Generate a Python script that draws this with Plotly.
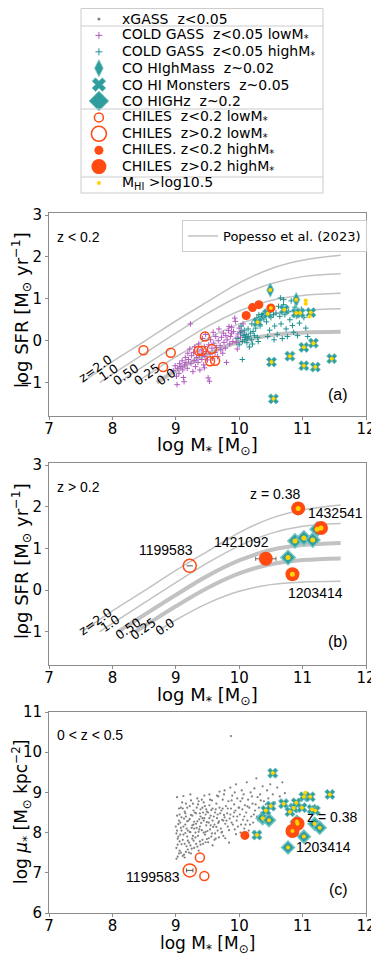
import plotly.graph_objects as go

W, H = 379, 956
BODY = 8  # the page body keeps its default 8px margin
FW, FH = W - BODY, H - BODY

# ---------------------------------------------------------------- data
# Popesso et al. (2023) main-sequence curves (read off panels a/b)
MS_LABELS = ["z=2.0", "1.0", "0.50", "0.25", "0.0"]
MS_Z20_M = [7.52, 8.0, 8.5, 9.0, 9.5, 10.0, 10.5, 11.0, 11.6]
MS_Z20_SFR = [-1.00, -0.50, -0.02, 0.47, 0.93, 1.38, 1.72, 1.92, 2.04]
MS_Z10_M = [7.80, 8.0, 8.5, 9.0, 9.5, 10.0, 10.5, 11.0, 11.6]
MS_Z10_SFR = [-1.00, -0.80, -0.31, 0.18, 0.65, 1.06, 1.36, 1.53, 1.60]
MS_Z05_M = [8.09, 8.5, 9.0, 9.5, 10.0, 10.5, 11.0, 11.6]
MS_Z05_SFR = [-1.00, -0.60, -0.12, 0.34, 0.71, 0.96, 1.08, 1.13]
MS_Z025_M = [8.36, 8.5, 9.0, 9.5, 10.0, 10.5, 11.0, 11.6]
MS_Z025_SFR = [-1.00, -0.87, -0.39, 0.05, 0.40, 0.62, 0.72, 0.76]
MS_Z00_M = [8.70, 9.0, 9.5, 10.0, 10.5, 11.0, 11.6]
MS_Z00_SFR = [-1.00, -0.72, -0.32, -0.03, 0.13, 0.19, 0.21]
MS_LAB_A_M = [7.73, 7.94, 8.21, 8.54, 8.85]
MS_LAB_A_SFR = [-0.67, -0.77, -0.81, -0.81, -0.85]
MS_LAB_B_M = [7.73, 7.96, 8.25, 8.49, 8.83]
MS_LAB_B_SFR = [-0.76, -0.80, -0.92, -0.92, -0.88]

# panel (a): z < 0.2
COLDGASS_LO = [
    (8.96, -0.72), (8.99, -0.60), (9.01, -0.85), (9.03, -0.66), (9.05, -0.78),
    (9.06, -0.55), (9.08, -0.62), (9.10, -0.48), (9.11, -0.70), (9.12, -0.88),
    (9.14, -0.58), (9.15, -0.40), (9.16, -0.52), (9.18, -0.66), (9.19, -0.30),
    (9.20, -0.45), (9.22, -0.20), (9.23, 0.40), (9.24, -0.55), (9.25, -0.36),
    (9.27, -0.74), (9.28, -0.28), (9.29, -0.48), (9.30, -0.15), (9.31, -0.62),
    (9.33, -0.40), (9.34, -0.25), (9.35, -0.52), (9.36, -0.08), (9.37, -0.35),
    (9.38, -0.70), (9.40, -0.22), (9.41, -0.45), (9.42, 0.05), (9.43, -0.30),
    (9.44, -0.58), (9.45, -0.14), (9.46, -0.38), (9.47, 0.15), (9.48, -0.26),
    (9.50, -0.46), (9.51, -0.89), (9.52, -0.10), (9.53, -0.97), (9.54, -0.32),
    (9.55, 0.02), (9.57, -0.18), (9.58, -0.42), (9.59, 0.20), (9.60, -0.06),
    (9.62, -0.28), (9.63, 0.10), (9.64, -0.16), (9.66, -0.38), (9.67, 0.00),
    (9.68, 0.28), (9.70, -0.12), (9.71, -0.22), (9.72, 0.08), (9.74, -0.30),
    (9.75, 0.18), (9.76, -0.04), (9.78, -0.18), (9.79, 0.12), (9.80, -0.52),
    (9.81, 0.02), (9.83, 0.24), (9.84, 0.34), (9.85, -0.08), (9.86, 0.10),
    (9.88, 0.32), (9.88, 0.18), (9.90, -0.02), (9.91, 0.22), (9.93, 0.54),
    (9.94, 0.46), (9.95, 0.06), (9.96, -0.05), (9.98, 0.16), (10.00, 0.30),
    (10.02, 0.08), (10.04, 0.22), (10.06, 0.40), (10.08, 0.14), (9.97, -0.20),
    (9.02, -1.05), (9.13, -0.98), (9.45, -0.65),
]
COLDGASS_HI = [
    (9.98, 0.05), (10.00, -0.10), (10.02, 0.20), (10.03, 0.35), (10.05, -0.02),
    (10.06, 0.12), (10.08, 0.25), (10.09, 0.02), (10.10, 0.08), (10.11, 0.15),
    (10.12, -0.05), (10.13, 0.06), (10.14, 0.28), (10.15, 0.10), (10.16, -0.15),
    (10.18, 0.18), (10.19, 0.02), (10.20, 0.40), (10.21, -0.08), (10.22, 0.22),
    (10.24, 0.12), (10.25, 0.48), (10.05, -0.45), (10.26, 0.30), (10.28, 0.55),
    (10.29, 0.08), (10.30, -0.02), (10.31, 0.62), (10.33, 0.35), (10.34, 0.50),
    (10.35, 0.58), (10.36, 0.62), (10.37, 0.55), (10.38, 0.65), (10.39, 0.52),
    (10.40, 0.60), (10.42, 0.70), (10.43, 0.45), (10.45, 0.10), (10.46, 0.62),
    (10.48, 0.25), (10.50, 0.55), (10.52, 0.80), (10.54, 0.62), (10.56, 0.35),
    (10.58, 0.66), (10.60, 0.15), (10.62, 0.82), (10.64, 0.58), (10.66, 0.40),
    (10.68, 0.05), (10.70, 0.86), (10.72, 0.62), (10.74, 0.28), (10.76, 0.10),
    (10.78, 0.70), (10.80, 0.50), (10.82, 0.95), (10.84, 0.36), (10.86, 0.20),
    (10.88, 0.80), (10.90, 0.58), (10.92, 0.12), (10.95, 0.42), (10.98, 0.75),
    (11.02, 0.55), (11.05, 0.30), (11.08, 0.10), (10.65, 1.02), (10.70, 0.98),
    (10.55, 0.02),
]
A_HIGHMASS_M = [10.49, 10.90]
A_HIGHMASS_SFR = [1.21, 0.98]
A_MONSTER_M = [10.29, 10.45, 10.71, 10.90, 10.96, 11.13, 11.02, 11.17, 10.80,
               10.51, 11.02, 11.20, 11.46, 10.54]
A_MONSTER_SFR = [0.44, 0.64, 0.74, 0.66, 0.66, 0.67, -0.16, -0.06, -0.37,
                 -0.51, -0.60, -0.63, -0.43, -1.39]
A_YELLOW_ONLY_M = [11.05, 11.05, 11.11]
A_YELLOW_ONLY_SFR = [0.96, 0.88, 0.58]
A_CHILES_LO_M = [8.49, 8.80, 8.92, 9.46, 9.36, 9.41, 9.57, 9.54, 9.62]
A_CHILES_LO_SFR = [-0.23, -0.63, -0.29, 0.10, -0.24, -0.24, -0.20, -0.49, -0.48]
A_CHILES_HI_M = [10.11, 10.21, 10.31, 10.50]
A_CHILES_HI_SFR = [0.60, 0.79, 0.86, 0.78]
A_CHILES_HI_FLAG = [0, 0, 0, 1]

# panel (b): z > 0.2
B_HIGHZ_M = [10.77, 10.88, 11.02, 11.16, 11.23]
B_HIGHZ_SFR = [0.78, 1.18, 1.25, 1.20, 1.46]
B_CHILES_LO_M = [9.22]
B_CHILES_LO_SFR = [0.58]
B_CHILES_LO_XERR = [0.05]
B_CHILES_HI_M = [10.93, 11.29, 10.42, 10.84]
B_CHILES_HI_SFR = [1.96, 1.49, 0.75, 0.38]
B_CHILES_HI_XERR = [0.0, 0.0, 0.16, 0.04]
B_CHILES_HI_YERR = [0.0, 0.0, 0.0, 0.06]
B_CHILES_HI_FLAG = [1, 1, 0, 1]
B_IDS = ["z = 0.38", "1432541", "1421092", "1199583", "1203414"]
B_IDS_M = [10.56, 11.52, 10.03, 8.84, 11.20]
B_IDS_SFR = [2.31, 1.85, 1.16, 0.95, -0.07]

# panel (c): 0 < z < 0.5, stellar surface density
XGASS = [
    (9.01, 7.62), (9.02, 8.05), (9.03, 7.85), (9.04, 8.21), (9.05, 7.48), (9.06, 8.45),
    (9.07, 7.95), (9.08, 8.62), (9.02, 8.88), (9.09, 7.71), (9.05, 8.30), (9.03, 7.40),
    (9.08, 8.12), (9.01, 7.98), (9.06, 7.55), (9.09, 8.38), (9.11, 7.82), (9.12, 8.15),
    (9.13, 7.45), (9.14, 8.52), (9.15, 7.99), (9.16, 8.72), (9.17, 7.66), (9.18, 8.28),
    (9.19, 8.05), (9.12, 8.91), (9.14, 7.38), (9.16, 8.40), (9.18, 7.90), (9.11, 8.60),
    (9.19, 7.58), (9.15, 8.20), (9.21, 7.75), (9.22, 8.34), (9.23, 8.01), (9.24, 8.80),
    (9.25, 7.60), (9.26, 8.18), (9.27, 7.92), (9.28, 8.55), (9.29, 8.10), (9.22, 8.66),
    (9.24, 7.48), (9.26, 8.42), (9.28, 7.80), (9.23, 8.95), (9.29, 8.27), (9.31, 7.88),
    (9.32, 8.48), (9.33, 8.12), (9.34, 7.65), (9.35, 8.70), (9.36, 8.02), (9.37, 8.33),
    (9.38, 7.78), (9.39, 8.58), (9.32, 8.22), (9.34, 8.85), (9.36, 7.55), (9.38, 8.15),
    (9.39, 8.40), (9.41, 8.06), (9.42, 8.62), (9.43, 7.72), (9.44, 8.30), (9.45, 8.92),
    (9.46, 7.95), (9.47, 8.45), (9.48, 8.18), (9.49, 7.84), (9.42, 8.36), (9.44, 8.75),
    (9.47, 8.02), (9.49, 8.52), (9.51, 7.76), (9.52, 8.25), (9.53, 8.68), (9.54, 8.08),
    (9.55, 8.42), (9.56, 7.90), (9.57, 8.80), (9.58, 8.30), (9.59, 8.14), (9.53, 8.95),
    (9.56, 8.56), (9.58, 7.68), (9.61, 8.20), (9.62, 8.50), (9.63, 7.85), (9.64, 8.72),
    (9.65, 8.36), (9.66, 8.05), (9.67, 8.90), (9.68, 8.28), (9.69, 8.62), (9.62, 7.98),
    (9.66, 8.45), (9.69, 9.02), (9.71, 8.10), (9.72, 8.55), (9.73, 8.32), (9.74, 8.82),
    (9.75, 7.92), (9.76, 8.44), (9.77, 9.05), (9.78, 8.22), (9.79, 8.66), (9.73, 8.02),
    (9.77, 8.38), (9.81, 8.48), (9.82, 8.15), (9.83, 8.78), (9.84, 7.75), (9.85, 8.35),
    (9.86, 9.12), (9.87, 8.60), (9.88, 8.25), (9.89, 8.92), (9.87, 10.40), (9.91, 8.40),
    (9.92, 8.70), (9.93, 8.08), (9.94, 8.55), (9.95, 9.20), (9.96, 8.30), (9.97, 8.85),
    (9.98, 8.15), (9.99, 8.62), (9.93, 9.00), (10.01, 8.45), (10.02, 8.78), (10.03, 8.20),
    (10.04, 9.05), (10.05, 8.58), (10.06, 8.32), (10.07, 8.95), (10.08, 8.10), (10.09, 8.68),
    (10.11, 8.50), (10.12, 9.25), (10.13, 8.30), (10.14, 8.82), (10.15, 8.05), (10.16, 8.62),
    (10.18, 9.00), (10.19, 8.40), (10.21, 8.72), (10.22, 8.25), (10.24, 9.10), (10.25, 8.55),
    (10.27, 9.35), (10.28, 8.40), (10.29, 8.88), (10.31, 8.62), (10.33, 8.95), (10.35, 8.50),
    (10.37, 9.15), (10.39, 8.78), (10.42, 8.70), (10.44, 9.05), (10.46, 8.85), (10.48, 8.60),
    (10.49, 9.20), (10.53, 8.95), (10.56, 8.75), (10.60, 9.12), (10.64, 8.90), (10.68, 9.25),
    (10.72, 8.98),
    (9.00, 8.15), (9.01, 7.35), (9.02, 8.42), (9.03, 7.70), (9.04, 7.90), (9.05, 8.60),
    (9.06, 7.78), (9.07, 8.25), (9.08, 7.50), (9.09, 8.05), (9.10, 8.75), (9.11, 7.42),
    (9.12, 7.95), (9.13, 8.35), (9.14, 7.72), (9.15, 8.48), (9.16, 7.52), (9.17, 8.10),
    (9.18, 8.62), (9.19, 7.80), (9.20, 8.30), (9.21, 7.50), (9.22, 8.02), (9.23, 7.68),
    (9.24, 8.44), (9.25, 8.12), (9.26, 7.85), (9.27, 8.72), (9.28, 8.20), (9.29, 7.62),
    (9.30, 8.50), (9.31, 8.00), (9.32, 7.72), (9.33, 8.62), (9.34, 8.28), (9.35, 7.92),
    (9.36, 8.78), (9.37, 8.08), (9.38, 8.48), (9.39, 7.70), (9.40, 8.24), (9.41, 8.82),
    (9.42, 7.82), (9.43, 8.50), (9.44, 8.00), (9.45, 8.36), (9.46, 8.66), (9.47, 7.76),
    (9.48, 8.58), (9.49, 8.26), (9.50, 8.04), (9.51, 8.50), (9.52, 7.86), (9.53, 8.36),
    (9.54, 8.82), (9.55, 8.18), (9.57, 7.98), (9.58, 8.60), (9.60, 8.40), (9.61, 7.82),
    (9.63, 8.58), (9.64, 8.14), (9.65, 8.92), (9.67, 8.24), (9.68, 7.88), (9.70, 8.48),
    (9.72, 8.00), (9.74, 8.60), (9.75, 8.30), (9.76, 8.95), (9.78, 7.86), (9.80, 8.30),
    (9.82, 8.60), (9.84, 8.06), (9.86, 8.45), (9.88, 8.80), (9.90, 8.20), (9.92, 8.50),
    (9.95, 7.96), (9.97, 8.40), (10.00, 8.62), (10.02, 8.00), (10.05, 8.85), (10.08, 8.40),
    (10.10, 8.20), (10.13, 8.65), (10.17, 8.20), (10.20, 8.90), (10.23, 8.45), (10.26, 8.70),
    (10.30, 8.30), (10.34, 8.80), (10.38, 8.45), (10.45, 8.45), (10.52, 8.70),
]
C_MONSTER_M = [10.53, 11.43, 11.02, 11.12, 10.70, 10.50, 10.42, 10.86, 10.99,
               11.15, 11.20, 10.90, 10.28, 10.80]
C_MONSTER_MU = [9.48, 8.95, 8.89, 8.89, 8.72, 8.66, 8.55, 8.61, 8.62,
                8.58, 8.55, 8.74, 7.94, 8.52]
C_HIGHZ_M = [10.37, 10.47, 10.91, 11.19, 11.27, 11.02, 10.77]
C_HIGHZ_MU = [8.36, 8.31, 8.27, 8.22, 8.12, 7.90, 7.63]
C_YELLOW_ONLY_M = [11.04]
C_YELLOW_ONLY_MU = [8.99]
C_CHILES_LO_M = [9.38, 9.45]
C_CHILES_LO_MU = [7.38, 6.92]
C_CHILES_LOZ_HI_M = [10.09]
C_CHILES_LOZ_HI_MU = [7.93]
C_CHILES_BIG_LO_M = [9.22]
C_CHILES_BIG_LO_MU = [7.06]
C_CHILES_BIG_HI_M = [10.92, 10.84]
C_CHILES_BIG_HI_MU = [8.22, 8.04]
C_IDS = ["z = 0.38", "1203414", "1199583"]
C_IDS_M = [11.46, 10.86, 9.10]
C_IDS_MU = [8.39, 7.64, 6.90]
C_IDS_ANCHOR = ["center", "left", "right"]

# top legend
LEG_LABELS = [
    "xGASS\u00a0\u00a0z&lt;0.05",
    "COLD GASS\u00a0\u00a0z&lt;0.05 lowM<sub>*</sub>",
    "COLD GASS\u00a0\u00a0z&lt;0.05 highM<sub>*</sub>",
    "CO HIghMass\u00a0\u00a0z~0.02",
    "CO HI Monsters\u00a0\u00a0z~0.05",
    "CO HIGHz\u00a0\u00a0z~0.2",
    "CHILES\u00a0\u00a0z&lt;0.2 lowM<sub>*</sub>",
    "CHILES\u00a0\u00a0z&gt;0.2 lowM<sub>*</sub>",
    "CHILES. z&lt;0.2 highM<sub>*</sub>",
    "CHILES\u00a0\u00a0z&gt;0.2 highM<sub>*</sub>",
    "M<sub>HI</sub> &gt;log10.5",
]

# ---------------------------------------------------------------- style
ORANGE = "#ff4a12"
TEAL = "#2f9d9d"
TEAL_EDGE = "#74c2c2"
TEAL_SMALL = "#1f9090"
PURPLE = "#b05cbf"
GREY = "#808080"
YELLOW = "#ffd400"
CURVE = "#c2c2c2"
FONT = "DejaVu Sans"
SANS = "Liberation Sans"


def px_x(p):
    # window pixel -> paper fraction
    return (p - BODY) / FW


def px_y(p):
    return 1 - (p - BODY) / FH


fig = go.Figure()


def add(xs, ys, xa, ya, **kw):
    kw.setdefault("mode", "markers")
    kw.setdefault("showlegend", False)
    fig.add_trace(go.Scatter(x=xs, y=ys, xaxis=xa, yaxis=ya, hoverinfo="skip", **kw))


def unzip(pairs):
    return [p[0] for p in pairs], [p[1] for p in pairs]


curves = [(MS_Z20_M, MS_Z20_SFR), (MS_Z10_M, MS_Z10_SFR), (MS_Z05_M, MS_Z05_SFR),
          (MS_Z025_M, MS_Z025_SFR), (MS_Z00_M, MS_Z00_SFR)]
thick_a = [False, False, False, False, True]
thick_b = [False, False, True, True, False]

# ---------------- panel (a)
for i, (m, s) in enumerate(curves):
    add(m, s, "x", "y", mode="lines",
        line=dict(color=CURVE, width=4 if thick_a[i] else 1.5, shape="spline"),
        name="Popesso et al. (2023)", showlegend=(i == 0))

lx, ly = unzip(COLDGASS_LO)
add(lx, ly, "x", "y", marker=dict(symbol="cross-thin", size=4, line=dict(color=PURPLE, width=1)))
hx, hy = unzip(COLDGASS_HI)
add(hx, hy, "x", "y", marker=dict(symbol="cross-thin", size=4, line=dict(color=TEAL_SMALL, width=1)))
add(A_HIGHMASS_M, A_HIGHMASS_SFR, "x", "y",
    marker=dict(symbol="diamond-tall", size=10, color=TEAL, line=dict(color=TEAL_EDGE, width=1)))
add(A_MONSTER_M, A_MONSTER_SFR, "x", "y",
    marker=dict(symbol="x", size=9, color=TEAL, line=dict(color=TEAL_EDGE, width=1)))
add(A_CHILES_LO_M, A_CHILES_LO_SFR, "x", "y",
    marker=dict(symbol="circle-open", size=9, color=ORANGE, line=dict(width=1.5)))
add(A_CHILES_HI_M, A_CHILES_HI_SFR, "x", "y", marker=dict(size=9, color=ORANGE))
ya_m = A_HIGHMASS_M + A_MONSTER_M + A_YELLOW_ONLY_M + [m for m, f in zip(A_CHILES_HI_M, A_CHILES_HI_FLAG) if f]
ya_s = A_HIGHMASS_SFR + A_MONSTER_SFR + A_YELLOW_ONLY_SFR + [s for s, f in zip(A_CHILES_HI_SFR, A_CHILES_HI_FLAG) if f]
add(ya_m, ya_s, "x", "y", marker=dict(size=4, color=YELLOW))

# ---------------- panel (b)
for i, (m, s) in enumerate(curves):
    add(m, s, "x2", "y2", mode="lines",
        line=dict(color=CURVE, width=4 if thick_b[i] else 1.5, shape="spline"))

add(B_HIGHZ_M, B_HIGHZ_SFR, "x2", "y2",
    marker=dict(symbol="diamond", size=11, color=TEAL, line=dict(color=TEAL_EDGE, width=1.5)))
add(B_CHILES_LO_M, B_CHILES_LO_SFR, "x2", "y2",
    marker=dict(symbol="circle-open", size=13, color=ORANGE, line=dict(width=1.5)),
    error_x=dict(type="data", array=B_CHILES_LO_XERR, color="#555", thickness=1, width=0))
add(B_CHILES_HI_M, B_CHILES_HI_SFR, "x2", "y2",
    marker=dict(size=14, color=ORANGE),
    error_x=dict(type="data", array=B_CHILES_HI_XERR, color="#666", thickness=1, width=2),
    error_y=dict(type="data", array=B_CHILES_HI_YERR, color="#333", thickness=1, width=0))
yb_m = B_HIGHZ_M + [m for m, f in zip(B_CHILES_HI_M, B_CHILES_HI_FLAG) if f]
yb_s = B_HIGHZ_SFR + [s for s, f in zip(B_CHILES_HI_SFR, B_CHILES_HI_FLAG) if f]
add(yb_m, yb_s, "x2", "y2", marker=dict(size=5, color=YELLOW))

# ---------------- panel (c)
gx, gy = unzip(XGASS)
add(gx, gy, "x3", "y3", marker=dict(size=2.2, color=GREY))
add(C_HIGHZ_M, C_HIGHZ_MU, "x3", "y3",
    marker=dict(symbol="diamond", size=10, color=TEAL, line=dict(color=TEAL_EDGE, width=1.5)))
add(C_MONSTER_M, C_MONSTER_MU, "x3", "y3",
    marker=dict(symbol="x", size=9, color=TEAL, line=dict(color=TEAL_EDGE, width=1)))
add(C_CHILES_LO_M, C_CHILES_LO_MU, "x3", "y3",
    marker=dict(symbol="circle-open", size=9, color=ORANGE, line=dict(width=1.5)))
add(C_CHILES_LOZ_HI_M, C_CHILES_LOZ_HI_MU, "x3", "y3", marker=dict(size=9, color=ORANGE))
add(C_CHILES_BIG_LO_M, C_CHILES_BIG_LO_MU, "x3", "y3",
    marker=dict(symbol="circle-open", size=13, color=ORANGE, line=dict(width=1.5)),
    error_x=dict(type="data", array=[0.05], color="#555", thickness=1, width=2))
add(C_CHILES_BIG_HI_M, C_CHILES_BIG_HI_MU, "x3", "y3", marker=dict(size=14, color=ORANGE))
add(C_MONSTER_M + C_HIGHZ_M + C_YELLOW_ONLY_M + C_CHILES_BIG_HI_M,
    C_MONSTER_MU + C_HIGHZ_MU + C_YELLOW_ONLY_MU + C_CHILES_BIG_HI_MU,
    "x3", "y3", marker=dict(size=4, color=YELLOW))

# ---------------- legend block (own axis, one row per entry)
LEG_SYMBOLS = ["circle", "cross-thin", "cross-thin", "diamond-tall", "x", "diamond",
               "circle-open", "circle-open", "circle", "circle", "circle"]
LEG_SIZES = [3, 5, 5, 12, 12, 15, 9, 15, 9, 15, 4]
LEG_COLORS = [GREY, PURPLE, TEAL_SMALL, TEAL, TEAL, TEAL, ORANGE, ORANGE, ORANGE, ORANGE, YELLOW]
rows = list(range(len(LEG_LABELS)))
for r in rows:
    sym = LEG_SYMBOLS[r]
    if sym == "cross-thin":
        mk = dict(symbol=sym, size=LEG_SIZES[r], line=dict(color=LEG_COLORS[r], width=1))
    elif sym == "circle-open":
        mk = dict(symbol=sym, size=LEG_SIZES[r], color=LEG_COLORS[r], line=dict(width=1.5))
    elif LEG_COLORS[r] == TEAL:
        mk = dict(symbol=sym, size=LEG_SIZES[r], color=TEAL, line=dict(color=TEAL_EDGE, width=1))
    else:
        mk = dict(symbol=sym, size=LEG_SIZES[r], color=LEG_COLORS[r])
    add([0.074], [r], "x4", "y4", marker=mk)
    fig.add_annotation(x=0.161, y=r, xref="x4", yref="y4", text=LEG_LABELS[r],
                       showarrow=False, xanchor="left", yanchor="middle",
                       font=dict(size=14, color="black"))

LEG_TOP = 8.5
shapes = [dict(type="rect", xref="paper", yref="paper", x0=px_x(81), x1=px_x(323),
               y0=px_y(193), y1=px_y(LEG_TOP), line=dict(color="#cccccc", width=1))]
for sep in [26, 109, 177]:
    shapes.append(dict(type="line", xref="paper", yref="paper", x0=px_x(81), x1=px_x(323),
                       y0=px_y(sep), y1=px_y(sep), line=dict(color="#cccccc", width=1)))

# ---------------- text annotations
for xr, yr, lm, ls in [("x", "y", MS_LAB_A_M, MS_LAB_A_SFR), ("x2", "y2", MS_LAB_B_M, MS_LAB_B_SFR)]:
    for lab, m, s in zip(MS_LABELS, lm, ls):
        fig.add_annotation(x=m, y=s, xref=xr, yref=yr, text=lab, showarrow=False,
                           textangle=-35, font=dict(size=12.5, color="black"))

for lab, m, s in zip(B_IDS, B_IDS_M, B_IDS_SFR):
    fig.add_annotation(x=m, y=s, xref="x2", yref="y2", text=lab, showarrow=False,
                       font=dict(family=SANS, size=14, color="black"))
for lab, m, s, a in zip(C_IDS, C_IDS_M, C_IDS_MU, C_IDS_ANCHOR):
    fig.add_annotation(x=m, y=s, xref="x3", yref="y3", text=lab, showarrow=False,
                       xanchor=a, font=dict(family=SANS, size=14, color="black"))

for xr, yr, tag, tag_y, lab, lab_y in [("x", "y", "(a)", 0.055, "z &lt; 0.2", 0.93),
                                       ("x2", "y2", "(b)", 0.064, "z &gt; 0.2", 0.93),
                                       ("x3", "y3", "(c)", 0.065, "0 &lt; z &lt; 0.5", 0.935)]:
    fig.add_annotation(x=0.95, y=tag_y, xref=xr + " domain", yref=yr + " domain", text=tag,
                       showarrow=False, font=dict(family=SANS, size=16, color="black"))
    fig.add_annotation(x=0.02, y=lab_y, xref=xr + " domain", yref=yr + " domain", text=lab,
                       showarrow=False, xanchor="left", font=dict(family=SANS, size=14, color="black"))

# axis titles, placed as text so they sit where the reference puts them
XT = "log M<sub>*</sub> [M<sub>⊙</sub>]"
YT_SFR = "log\u00a0SFR\u00a0[M<sub>⊙</sub> yr<sup>−1</sup>]"
YT_MU = "log <i>μ</i><sub>*</sub> [M<sub>⊙</sub> kpc<sup>−2</sup>]"
for xt_y, xt_size, yt, yt_y, yt_size in [(446, 18, YT_SFR, 310, 18),
                                         (696, 18, YT_SFR, 561, 18),
                                         (944, 17, YT_MU, 812, 17)]:
    fig.add_annotation(x=px_x(208), y=px_y(xt_y), xref="paper", yref="paper", text=XT,
                       showarrow=False, xanchor="center", yanchor="middle",
                       font=dict(size=xt_size, color="black"))
    fig.add_annotation(x=px_x(21), y=px_y(yt_y), xref="paper", yref="paper", text=yt,
                       textangle=-90, showarrow=False, xanchor="center", yanchor="middle",
                       font=dict(size=yt_size, color="black"))

# ---------------- axes
AX = dict(showline=True, linecolor="#8c8c8c", linewidth=1, mirror=True,
          ticks="outside", ticklen=3, tickwidth=1, tickcolor="#8c8c8c",
          tickfont=dict(size=15, color="black"), showgrid=False, zeroline=False,
          automargin=False, ticklabeloverflow="allow")
xdom = [px_x(49), px_x(366)]

layout_axes = {}
for n, (top, bot, yr) in enumerate([(213, 416, [-1.8, 3.05]),
                                   (463, 665, [-1.8, 3.05]),
                                   (712, 913, [6, 11])], start=1):
    sfx = "" if n == 1 else str(n)
    layout_axes["xaxis" + sfx] = dict(AX, domain=xdom, range=[7, 12], dtick=1, anchor="y" + sfx,
                                      ticklabelstandoff=-4)
    layout_axes["yaxis" + sfx] = dict(AX, domain=[px_y(bot), px_y(top)], range=yr, dtick=1,
                                      anchor="x" + sfx)
# legend rows: row r sits at window pixel 19 + 16.4 r
layout_axes["xaxis4"] = dict(domain=[px_x(81), px_x(323)], range=[0, 1], visible=False,
                             anchor="y4", fixedrange=True)
layout_axes["yaxis4"] = dict(domain=[px_y(193), px_y(LEG_TOP)],
                             range=[(193 - 19) / 16.4, (LEG_TOP - 19) / 16.4],
                             visible=False, anchor="x4", fixedrange=True)

fig.update_layout(
    width=FW, height=FH,
    margin=dict(l=0, r=0, t=0, b=0),
    paper_bgcolor="white", plot_bgcolor="white",
    font=dict(family=FONT, color="black"),
    shapes=shapes,
    legend=dict(x=px_x(182), y=px_y(220), xanchor="left", yanchor="top",
                bordercolor="#cccccc", borderwidth=1, bgcolor="white",
                font=dict(size=13, color="black")),
    **layout_axes,
)

fig.write_html("out.html")
